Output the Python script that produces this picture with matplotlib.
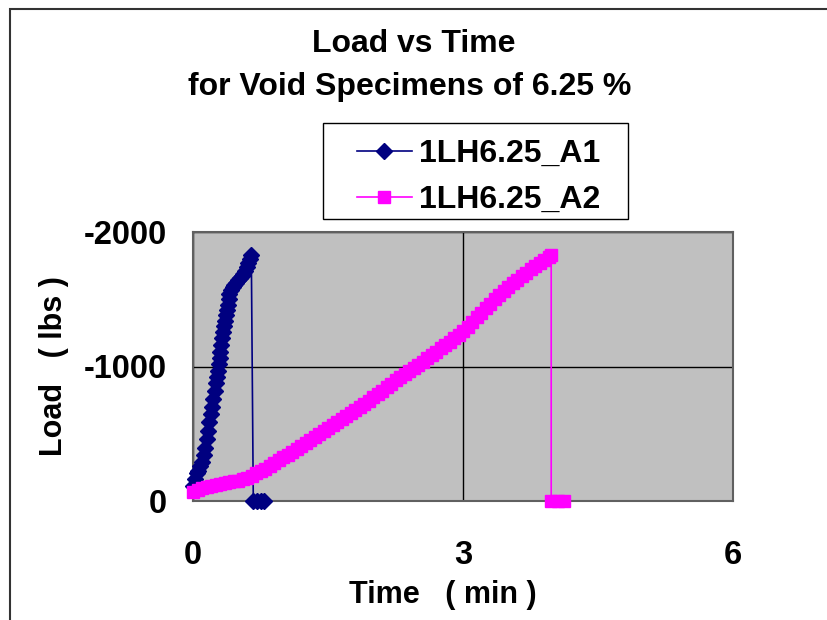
"""
Load vs Time, void specimens 6.25 %
"""

import matplotlib
matplotlib.use('Agg')
import matplotlib.pyplot as plt
from matplotlib.patches import Rectangle

plt.rcParams['font.family'] = ['Liberation Sans', 'DejaVu Sans']
plt.rcParams['font.weight'] = 'bold'
plt.rcParams['axes.unicode_minus'] = False

# 1LH6.25_A1 (min, lbs)
a1_time = [0.00, 0.02, 0.04, 0.06, 0.08, 0.10, 0.12, 0.135, 0.15, 0.165,
           0.18, 0.195, 0.21, 0.225, 0.24, 0.255, 0.265, 0.275, 0.285, 0.295,
           0.305, 0.315, 0.325, 0.335, 0.345, 0.355, 0.365, 0.375, 0.385, 0.395,
           0.405, 0.42, 0.44, 0.46, 0.48, 0.50, 0.52, 0.54, 0.56, 0.58,
           0.60, 0.615, 0.63, 0.648, 0.67, 0.71, 0.75, 0.79]
a1_load = [-110, -160, -205, -225, -260, -290, -340, -395, -460, -520,
           -585, -645, -700, -760, -820, -880, -925, -970, -1015, -1060,
           -1110, -1160, -1210, -1255, -1300, -1340, -1380, -1420, -1460, -1500,
           -1540, -1570, -1590, -1605, -1620, -1640, -1655, -1670, -1690, -1710,
           -1740, -1770, -1800, -1830, 0, 0, 0, 0]

# 1LH6.25_A2 (min, lbs)
a2_time = [0.00, 0.05, 0.10, 0.15, 0.20, 0.25, 0.30, 0.35, 0.40, 0.45,
           0.50, 0.55, 0.60, 0.65, 0.70, 0.75, 0.80, 0.85, 0.90, 0.95,
           1.00, 1.05, 1.10, 1.15, 1.20, 1.25, 1.30, 1.35, 1.40, 1.45,
           1.50, 1.55, 1.60, 1.65, 1.70, 1.75, 1.80, 1.85, 1.90, 1.95,
           2.00, 2.05, 2.10, 2.15, 2.20, 2.25, 2.30, 2.35, 2.40, 2.45,
           2.50, 2.55, 2.60, 2.65, 2.70, 2.75, 2.80, 2.85, 2.90, 2.95,
           3.00, 3.05, 3.10, 3.15, 3.20, 3.25, 3.30, 3.35, 3.40, 3.45,
           3.50, 3.55, 3.60, 3.65, 3.70, 3.75, 3.80, 3.85, 3.90, 3.95,
           3.98, 3.98, 4.05, 4.12]
a2_load = [-70, -85, -95, -105, -110, -118, -125, -132, -140, -145,
           -152, -160, -170, -185, -205, -222, -240, -262, -285, -305,
           -325, -345, -365, -385, -408, -432, -455, -478, -500, -522,
           -545, -568, -590, -612, -635, -655, -675, -697, -720, -745,
           -770, -795, -820, -845, -870, -897, -920, -945, -968, -990,
           -1012, -1035, -1060, -1085, -1110, -1135, -1160, -1185, -1210, -1235,
           -1262, -1295, -1330, -1365, -1400, -1435, -1468, -1500, -1530, -1560,
           -1590, -1618, -1645, -1672, -1698, -1722, -1748, -1772, -1795, -1815,
           -1830, 0, 0, 0]

x_ticks = [0, 3, 6]
y_ticks = [0, -1000, -2000]

W, H = 827, 620
fig = plt.figure(figsize=(W / 100, H / 100), dpi=100)
fig.patch.set_facecolor('white')

# 外框
fig.patches.append(Rectangle((10 / W, -0.2), 1.5, 1.2 - 9 / H,
                             transform=fig.transFigure, fill=False,
                             edgecolor='#333333', linewidth=1.5))

ax = fig.add_axes([193 / W, 1 - 501 / H, 540 / W, 269 / H])
ax.set_facecolor('#C0C0C0')

ax.plot(a1_time, a1_load, color='#000080', lw=1.2, marker='D', markersize=8,
        markerfacecolor='#000080', markeredgecolor='#000080',
        clip_on=False, zorder=3, label='1LH6.25_A1')
ax.plot(a2_time, a2_load, color='#FF00FF', lw=1.2, marker='s', markersize=8.5,
        markerfacecolor='#FF00FF', markeredgecolor='#FF00FF',
        clip_on=False, zorder=4, label='1LH6.25_A2')

ax.set_xlim(0, 6)
ax.set_ylim(0, -2000)
ax.set_xticks(x_ticks)
ax.set_yticks(y_ticks)
ax.tick_params(axis='both', length=0, labelsize=23.5)
ax.tick_params(axis='y', pad=19)
ax.tick_params(axis='x', pad=28)
ax.grid(True, color='black', lw=1)
ax.set_axisbelow(True)
for s in ax.spines.values():
    s.set_color('#606060')
    s.set_linewidth(1.5)

ax.set_xlabel('Time   ( min )', fontsize=22, fontweight='bold', va='center')
ax.set_ylabel('Load   ( lbs )', fontsize=22, fontweight='bold', va='center')
ax.xaxis.set_label_coords(250 / 540, -94 / 269)
ax.yaxis.set_label_coords(-139 / 540, 135 / 269)

fig.text(414 / W, 1 - 44 / H, 'Load vs Time', ha='center', va='center',
         fontsize=23, fontweight='bold')
fig.text(410 / W, 1 - 87 / H, 'for Void Specimens of 6.25 %', ha='center',
         va='center', fontsize=23, fontweight='bold')

# 图例 (框单独画)
fig.patches.append(Rectangle((323 / W, 1 - 219 / H), 305 / W, 96 / H,
                             transform=fig.transFigure, fill=False,
                             edgecolor='black', linewidth=1.0))
leg = ax.legend(loc='center left', bbox_to_anchor=(357 / W, 1 - 177 / H),
                bbox_transform=fig.transFigure, fontsize=23, frameon=False,
                handlelength=1.72, handletextpad=0.22, borderpad=0,
                labelspacing=0.5, borderaxespad=0)
for t in leg.get_texts():
    t.set_fontweight('bold')

fig.savefig('out.png', dpi=100)
